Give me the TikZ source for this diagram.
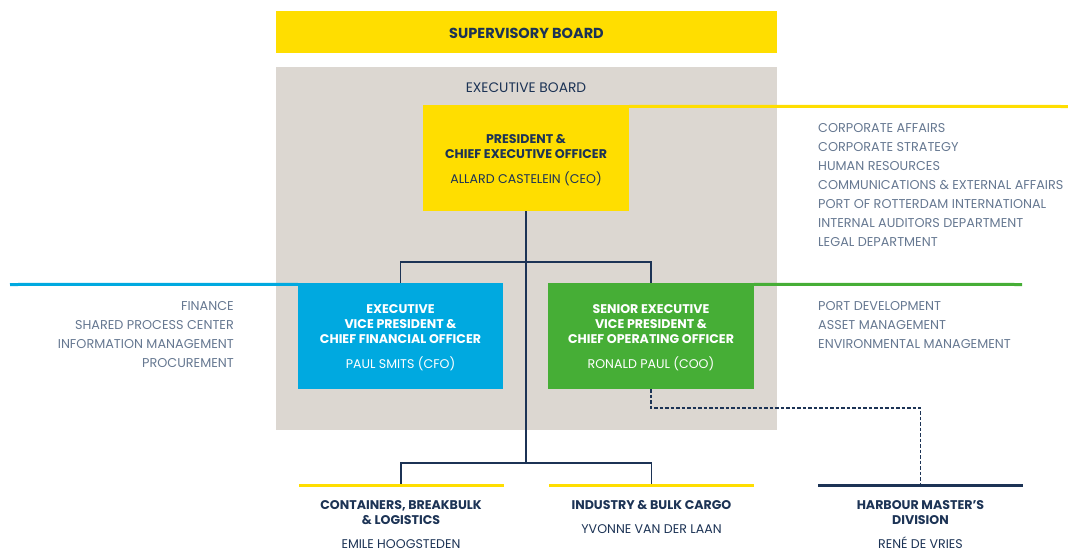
\documentclass[tikz,border=0pt]{standalone}
\usepackage{fontspec}
\setmainfont{Poppins}
\definecolor{navy}{HTML}{1C3355}
\definecolor{listc}{HTML}{667891}
\definecolor{pyellow}{HTML}{FFDE00}
\definecolor{pgrey}{HTML}{DCD7D1}
\definecolor{pblue}{HTML}{00A9E0}
\definecolor{pgreen}{HTML}{46AE36}
\newcommand{\ttl}[1]{{\bfseries #1}}
\begin{document}
\begin{tikzpicture}[x=1pt,y=-1pt,
  orgbox/.style={inner sep=0, minimum width=206pt, minimum height=106pt},
  orgtext/.style={inner sep=0, align=center, font=\fontsize{12.6}{15}\selectfont},
  conn/.style={draw=navy, line width=1.4pt},
  dashconn/.style={draw=navy, line width=1.4pt, dash pattern=on 3.5pt off 2pt},
  listtxt/.style={text=listc, inner sep=0, font=\fontsize{12.8}{19}\selectfont},
  unittxt/.style={text=navy, inner sep=0, align=center, anchor=north, font=\fontsize{12.6}{15}\selectfont},
  bar/.style={inner sep=0, minimum width=205pt, minimum height=3pt},
  colline/.style={line width=3pt}]
\useasboundingbox (0,0) rectangle (1068,552);

% supervisory board
\node[fill=pyellow, inner sep=0, minimum width=501pt, minimum height=42pt] (sup) at (526.5,32) {};
\node[text=navy, inner sep=0, font=\fontsize{14.5}{15}\selectfont] (suptxt) at ([yshift=-1pt]sup.center) {\ttl{SUPERVISORY BOARD}};

% executive board
\node[fill=pgrey, inner sep=0, minimum width=501pt, minimum height=363pt] (exec) at (526.5,248.5) {};
\node[text=navy, inner sep=0, font=\fontsize{13.8}{15}\selectfont] (eblabel) at (526,88) {EXECUTIVE BOARD};

% coloured lines
\coordinate (ceoend) at (1068,106.5);
\coordinate (cfoend) at (10,284.5);
\coordinate (cooend) at (1022,284.5);

\node[orgbox, fill=pyellow] (ceo) at (526,158) {};
\node[orgbox, fill=pblue, minimum width=205pt] (cfo) at (400.5,336) {};
\node[orgbox, fill=pgreen] (coo) at (651,336) {};
\node[orgtext, text=navy] (ceotxt) at ([yshift=-2pt]ceo.center)
  {\ttl{PRESIDENT \&}\\\ttl{CHIEF EXECUTIVE OFFICER}\\[10pt]ALLARD CASTELEIN (CEO)};
\node[orgtext, text=white] (cfotxt) at ([yshift=-2pt]cfo.center)
  {\ttl{EXECUTIVE}\\\ttl{VICE PRESIDENT \&}\\\ttl{CHIEF FINANCIAL OFFICER}\\[10pt]PAUL SMITS (CFO)};
\node[orgtext, text=white] (cootxt) at ([yshift=-2pt]coo.center)
  {\ttl{SENIOR EXECUTIVE}\\\ttl{VICE PRESIDENT \&}\\\ttl{CHIEF OPERATING OFFICER}\\[10pt]RONALD PAUL (COO)};

\draw[colline, draw=pyellow] ([yshift=-1.5pt]ceo.north east) -- (ceoend);
\draw[colline, draw=pblue] (cfoend) -- ([yshift=-1.5pt]cfo.north west);
\draw[colline, draw=pgreen] ([yshift=-1.5pt]coo.north east) -- (cooend);

% staff lists
\node[listtxt, anchor=north west, align=left] (ceolist) at (818,123)
  {CORPORATE AFFAIRS\\CORPORATE STRATEGY\\HUMAN RESOURCES\\COMMUNICATIONS \& EXTERNAL AFFAIRS\\PORT OF ROTTERDAM INTERNATIONAL\\INTERNAL AUDITORS DEPARTMENT\\LEGAL DEPARTMENT};
\node[listtxt, anchor=north east, align=right] (cfolist) at (234,301)
  {FINANCE\\SHARED PROCESS CENTER\\INFORMATION MANAGEMENT\\PROCUREMENT};
\node[listtxt, anchor=north west, align=left] (coolist) at (818,301)
  {PORT DEVELOPMENT\\ASSET MANAGEMENT\\ENVIRONMENTAL MANAGEMENT};

% business units
\node[bar, fill=pyellow] (cblbar) at (401,485.5) {};
\node[bar, fill=pyellow] (ibcbar) at (651.5,485.5) {};
\node[bar, fill=navy] (hmbar) at (920.5,485.5) {};

\node[unittxt] (cbl) at (401,500.5) {\ttl{CONTAINERS, BREAKBULK}\\\ttl{\& LOGISTICS}\\[8.5pt]EMILE HOOGSTEDEN};
\node[unittxt] (ibc) at (651.5,500.5) {\ttl{INDUSTRY \& BULK CARGO}\\[9pt]YVONNE VAN DER LAAN};
\node[unittxt] (hm) at (920.5,500.5) {\ttl{HARBOUR MASTER’S}\\\ttl{DIVISION}\\[8.5pt]RENÉ DE VRIES};

% connectors
\coordinate (j1) at (526,262);
\coordinate (j2) at (526,463);
\coordinate (j3) at (700,408);
\draw[conn] (ceo.south) -- (j2);
\draw[conn] (cfo.north) |- (j1) -| (coo.north);
\draw[conn] (cblbar.north) |- (j2) -| (ibcbar.north);
\draw[dashconn] (coo.south) |- (j3) -| (hmbar.north);
\end{tikzpicture}
\end{document}
